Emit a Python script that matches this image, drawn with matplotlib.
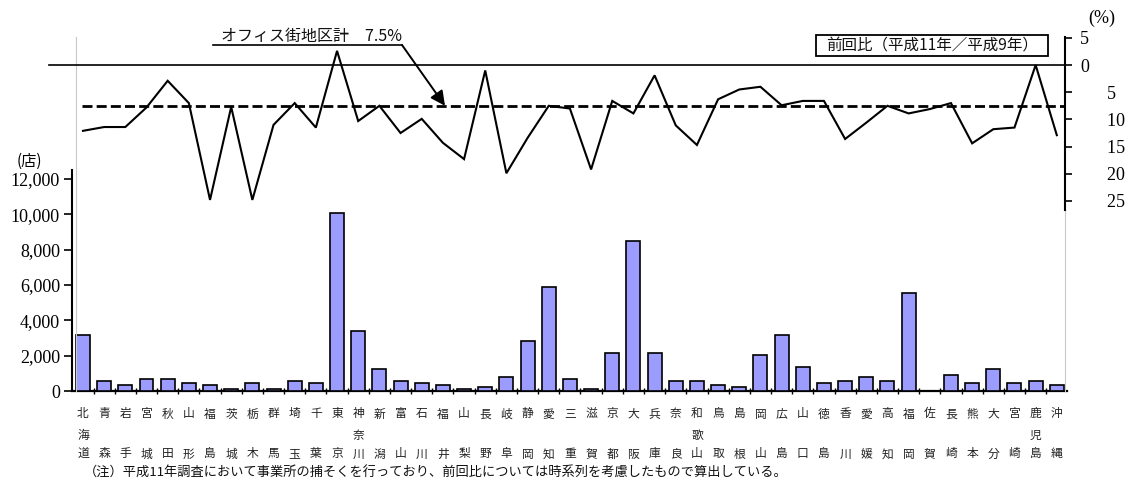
import matplotlib
matplotlib.use("Agg")
import matplotlib.pyplot as plt
from matplotlib.lines import Line2D
from matplotlib.patches import Rectangle
from matplotlib.ticker import FuncFormatter

plt.rcParams["font.family"] = ["Noto Sans CJK JP", "DejaVu Sans"]

# ---- data -------------------------------------------------------------
prefectures = ["北海道", "青森", "岩手", "宮城", "秋田", "山形", "福島", "茨城",
               "栃木", "群馬", "埼玉", "千葉", "東京", "神奈川", "新潟", "富山",
               "石川", "福井", "山梨", "長野", "岐阜", "静岡", "愛知", "三重",
               "滋賀", "京都", "大阪", "兵庫", "奈良", "和歌山", "鳥取", "島根",
               "岡山", "広島", "山口", "徳島", "香川", "愛媛", "高知", "福岡",
               "佐賀", "長崎", "熊本", "大分", "宮崎", "鹿児島", "沖縄"]

# number of stores in office districts (店)
stores = [3150, 550, 320, 660, 660, 435, 320, 130, 435, 130, 550, 435,
          10060, 3380, 1230, 550, 435, 320, 130, 210, 775, 2810, 5870, 660,
          100, 2130, 8470, 2130, 550, 550, 320, 210, 2020, 3150, 1340, 435,
          550, 775, 550, 5530, 0, 890, 435, 1230, 435, 550, 320]

# rate of decrease vs. previous survey (平成11年/平成9年), %
decrease_pct = [12.1, 11.4, 11.4, 7.8, 2.9, 7.0, 24.8, 7.7, 24.8, 11.0, 7.0,
                11.5, -2.6, 10.3, 7.5, 12.5, 9.9, 14.3, 17.3, 1.0, 19.9, 13.4,
                7.5, 8.0, 19.2, 6.6, 8.9, 1.9, 11.1, 14.7, 6.3, 4.5, 4.0, 7.4,
                6.6, 6.6, 13.6, 10.6, 7.5, 8.9, 8.1, 7.0, 14.4, 11.8, 11.5, 0.0,
                12.9]

office_total = 7.5
store_ticks = [0, 2000, 4000, 6000, 8000, 10000, 12000]
pct_ticks = [-5, 0, 5, 10, 15, 20, 25]

# ---- figure -------------------------------------------------------------
W, H = 1126, 496
fig = plt.figure(figsize=(W / 100, H / 100), dpi=100)
fig.patch.set_facecolor("white")


def fx(px):
    return px / W


def fy(py):
    return 1 - py / H


serif = "Liberation Serif"
n = len(prefectures)
xs = list(range(n))

# bar chart (lower part)
ax_bar = fig.add_axes([fx(72.4), fy(391), fx(1067.4) - fx(72.4), fy(170) - fy(391)])
ax_bar.patch.set_alpha(0)
ax_bar.bar(xs, stores, width=0.66, color="#9C9CFF", edgecolor="black", linewidth=1.2, zorder=3)
ax_bar.set_xlim(-0.5, n - 0.5)
ax_bar.set_ylim(0, 12500)
ax_bar.set_yticks(store_ticks)
ax_bar.yaxis.set_major_formatter(FuncFormatter(lambda v, p: f"{int(v):,}"))
for lab in ax_bar.get_yticklabels():
    lab.set_fontfamily(serif)
ax_bar.tick_params(axis="y", direction="out", length=6, width=1.2, pad=3,
                   labelsize=13)
ax_bar.spines["left"].set_bounds(0, 12500)
ax_bar.spines["left"].set_linewidth(1.5)
ax_bar.spines["bottom"].set_linewidth(1.6)
ax_bar.spines["top"].set_visible(False)
ax_bar.spines["right"].set_visible(False)
ax_bar.set_xticks([])
ax_bar.set_xticks([i + 0.5 for i in range(n - 1)], minor=True)
ax_bar.tick_params(axis="x", which="minor", direction="inout", length=5, width=1.0)

# vertical prefecture labels (one character per row)
row_offsets = [-23, -44, -63]
for i, name in enumerate(prefectures):
    chars = list(name)
    rows = [0, 1, 2] if len(chars) == 3 else [0, 2]
    for ch, r in zip(chars, rows):
        ax_bar.annotate(ch, xy=(i, 0), xycoords=("data", "axes fraction"),
                        xytext=(0, row_offsets[r]), textcoords="offset pixels",
                        ha="center", va="center", fontsize=8.5, color="#222222",
                        annotation_clip=False)

# line chart (upper part, inverted percentage scale)
ax_line = fig.add_axes([fx(76), fy(391), fx(1065) - fx(76), fy(37) - fy(391)])
ax_line.patch.set_alpha(0)
ax_line.set_xlim(-7 / 21.17, (1065 - 83) / 21.17)
ax_line.set_ylim(59.93, -5.15)
ax_line.plot(xs, decrease_pct, color="black", linewidth=1.5, zorder=4,
             solid_joinstyle="miter")

# zero line, extending slightly to the left of the plot area
ax_line.plot([-0.027, 1], [0, 0], transform=ax_line.get_yaxis_transform(),
             color="black", linewidth=1.2, clip_on=False, zorder=3)
# office-district total
ax_line.plot([0.006, 1], [office_total, office_total],
             transform=ax_line.get_yaxis_transform(), color="black",
             linewidth=2.0, linestyle=(0, (3.6, 1.5)), zorder=3)

ax_line.yaxis.tick_right()
ax_line.set_yticks(pct_ticks)
ax_line.set_yticklabels([str(abs(v)) if v <= 0 else "      " + str(v) for v in pct_ticks],
                        fontfamily=serif)
ax_line.tick_params(axis="y", direction="out", length=5, width=1.2, pad=6,
                    labelsize=13)
ax_line.set_xticks([])
ax_line.spines["top"].set_visible(False)
ax_line.spines["bottom"].set_visible(False)
ax_line.spines["left"].set_color("#C8C8C8")
ax_line.spines["left"].set_linewidth(0.8)
ax_line.spines["right"].set_bounds(-5.15, 26.6)
ax_line.spines["right"].set_linewidth(1.5)
ax_line.plot([1, 1], [26.6, 59.93], transform=ax_line.get_yaxis_transform(),
             color="#C8C8C8", linewidth=0.8, clip_on=False)

# annotation for the office-district total
tip_x = (445 - 83) / 21.17
ax_line.annotate("", xy=(tip_x, office_total), xycoords="data",
                 xytext=(402, H - 45), textcoords="figure pixels",
                 arrowprops=dict(arrowstyle="-|>", color="black", lw=1.4,
                                 mutation_scale=22, shrinkA=0, shrinkB=0),
                 zorder=5)
fig.add_artist(Line2D([fx(213), fx(402)], [fy(45), fy(45)], color="black", lw=1.2))
fig.text(fx(221), fy(44.5), "オフィス街地区計　7.5%", fontsize=11.5, ha="left",
         va="bottom", color="#111111")

# series caption box
fig.add_artist(Rectangle((fx(816), fy(56)), fx(1048) - fx(816), fy(35) - fy(56),
                         transform=fig.transFigure, facecolor="white",
                         edgecolor="black", linewidth=1.3))
fig.text(fx(932), fy(46), "前回比（平成11年／平成9年）", fontsize=11.2,
         ha="center", va="center", color="#111111")

# axis unit labels
fig.text(fx(17), fy(161), "(店)", fontsize=11, ha="left", va="center")
fig.text(fx(1088), fy(18), "(%)", fontsize=13, ha="left", va="center",
         fontfamily=serif)

# footnote
fig.text(fx(84), fy(473),
         "（注）平成11年調査において事業所の捕そくを行っており、前回比については時系列を考慮したもので算出している。",
         fontsize=9.5, ha="left", va="center", color="#111111")

fig.savefig("out.png", dpi=100)
